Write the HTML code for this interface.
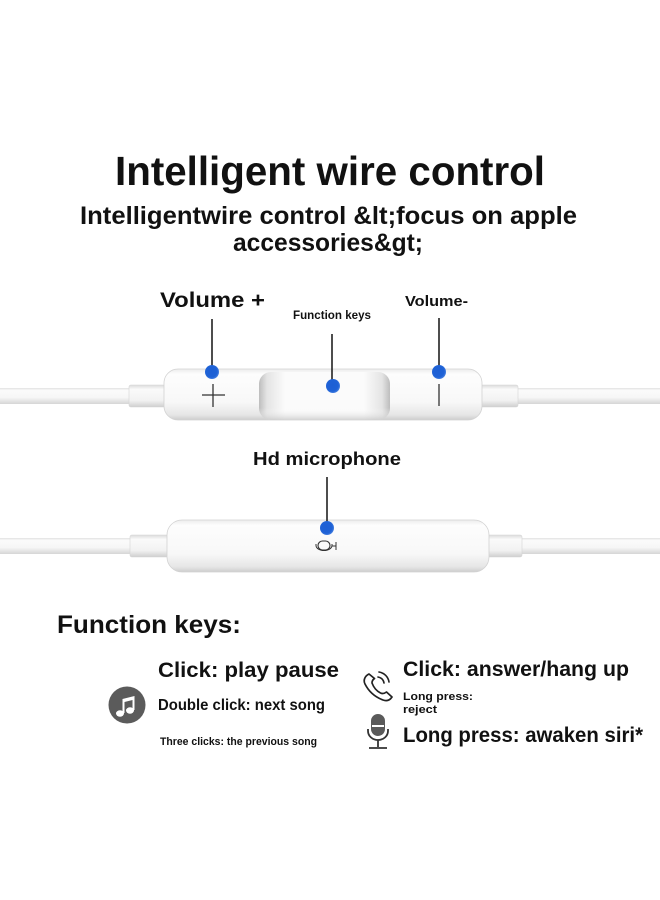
<!DOCTYPE html>
<html>
<head>
<meta charset="utf-8">
<style>
  html, body { margin: 0; padding: 0; background: #ffffff; }
  body { width: 660px; height: 900px; overflow: hidden; }
  svg { display: block; }
  text { font-family: "Liberation Sans", "Noto Sans CJK SC", sans-serif; font-weight: bold; fill: #111; }
</style>
</head>
<body>
<svg width="660" height="900" viewBox="0 0 660 900" xmlns="http://www.w3.org/2000/svg">
  <defs>
    <linearGradient id="cable" x1="0" y1="0" x2="0" y2="1">
      <stop offset="0" stop-color="#e2e2e2"/>
      <stop offset="0.15" stop-color="#fbfbfb"/>
      <stop offset="0.6" stop-color="#f6f6f6"/>
      <stop offset="1" stop-color="#d6d6d6"/>
    </linearGradient>
    <linearGradient id="collar" x1="0" y1="0" x2="0" y2="1">
      <stop offset="0" stop-color="#dcdcdc"/>
      <stop offset="0.2" stop-color="#fafafa"/>
      <stop offset="0.7" stop-color="#f2f2f2"/>
      <stop offset="1" stop-color="#cfcfcf"/>
    </linearGradient>
    <linearGradient id="body" x1="0" y1="0" x2="0" y2="1">
      <stop offset="0" stop-color="#ececec"/>
      <stop offset="0.1" stop-color="#fdfdfd"/>
      <stop offset="0.65" stop-color="#f8f8f8"/>
      <stop offset="0.9" stop-color="#e6e6e6"/>
      <stop offset="1" stop-color="#cdcdcd"/>
    </linearGradient>
    <linearGradient id="btnH" x1="0" y1="0" x2="1" y2="0">
      <stop offset="0" stop-color="#bdbdbd"/>
      <stop offset="0.06" stop-color="#e4e4e4"/>
      <stop offset="0.2" stop-color="#fbfbfb"/>
      <stop offset="0.8" stop-color="#fbfbfb"/>
      <stop offset="0.94" stop-color="#e4e4e4"/>
      <stop offset="1" stop-color="#bdbdbd"/>
    </linearGradient>
    <linearGradient id="btnV" x1="0" y1="0" x2="0" y2="1">
      <stop offset="0" stop-color="#ffffff" stop-opacity="0"/>
      <stop offset="0.75" stop-color="#ffffff" stop-opacity="0"/>
      <stop offset="1" stop-color="#c8c8c8" stop-opacity="0.8"/>
    </linearGradient>
    <radialGradient id="dot" cx="0.45" cy="0.45" r="0.6">
      <stop offset="0" stop-color="#1d5fd4"/>
      <stop offset="0.7" stop-color="#1f62d6"/>
      <stop offset="1" stop-color="#4f86e2"/>
    </radialGradient>
  </defs>

  <!-- Title -->
  <text x="115" y="185" font-size="41" textLength="430" lengthAdjust="spacingAndGlyphs">Intelligent wire control</text>
  <text x="80" y="224" font-size="25" textLength="497" lengthAdjust="spacingAndGlyphs">Intelligentwire control &amp;lt;focus on apple</text>
  <text x="233" y="251" font-size="25" textLength="190" lengthAdjust="spacingAndGlyphs">accessories&amp;gt;</text>

  <!-- Top labels -->
  <text x="160" y="307" font-size="21" textLength="105" lengthAdjust="spacingAndGlyphs">Volume +</text>
  <text x="293" y="319" font-size="11.5" textLength="78" lengthAdjust="spacingAndGlyphs">Function keys</text>
  <text x="405" y="306" font-size="15" textLength="63" lengthAdjust="spacingAndGlyphs">Volume-</text>

  <!-- Top remote -->
  <rect x="0" y="388" width="132" height="16" fill="url(#cable)"/>
  <rect x="129" y="385" width="38" height="22" rx="2" fill="url(#collar)" stroke="#d4d4d4" stroke-width="0.6"/>
  <rect x="515" y="388" width="145" height="16" fill="url(#cable)"/>
  <rect x="479" y="385" width="39" height="22" rx="2" fill="url(#collar)" stroke="#d4d4d4" stroke-width="0.6"/>
  <rect x="164" y="369" width="318" height="51" rx="14" fill="url(#body)" stroke="#d2d2d2" stroke-width="0.8"/>
  <rect x="259" y="372" width="131" height="48" rx="12" fill="url(#btnH)"/>
  <rect x="259" y="372" width="131" height="48" rx="12" fill="url(#btnV)"/>
  <!-- plus / minus -->
  <line x1="202" y1="395" x2="225" y2="395" stroke="#333" stroke-width="1.3"/>
  <line x1="213" y1="384" x2="213" y2="407" stroke="#333" stroke-width="1.3"/>
  <line x1="439" y1="384" x2="439" y2="406" stroke="#333" stroke-width="1.3"/>
  <!-- leader lines -->
  <line x1="212" y1="319" x2="212" y2="370" stroke="#222" stroke-width="1.6"/>
  <line x1="332" y1="334" x2="332" y2="385" stroke="#222" stroke-width="1.6"/>
  <line x1="439" y1="318" x2="439" y2="370" stroke="#222" stroke-width="1.6"/>
  <circle cx="212" cy="372" r="7" fill="url(#dot)"/>
  <circle cx="333" cy="386" r="7" fill="url(#dot)"/>
  <circle cx="439" cy="372" r="7" fill="url(#dot)"/>

  <!-- Hd microphone -->
  <text x="253" y="465" font-size="18" textLength="148" lengthAdjust="spacingAndGlyphs">Hd microphone</text>
  <rect x="0" y="538" width="134" height="16" fill="url(#cable)"/>
  <rect x="130" y="535" width="40" height="22" rx="2" fill="url(#collar)" stroke="#d4d4d4" stroke-width="0.6"/>
  <rect x="518" y="538" width="142" height="16" fill="url(#cable)"/>
  <rect x="486" y="535" width="36" height="22" rx="2" fill="url(#collar)" stroke="#d4d4d4" stroke-width="0.6"/>
  <rect x="167" y="520" width="322" height="52" rx="15" fill="url(#body)" stroke="#d2d2d2" stroke-width="0.8"/>
  <line x1="327" y1="477" x2="327" y2="526" stroke="#222" stroke-width="1.6"/>
  <circle cx="327" cy="528" r="7" fill="url(#dot)"/>
  <!-- mic glyph -->
  <rect x="318" y="541" width="12" height="9" rx="4.5" fill="none" stroke="#333" stroke-width="1.1"/>
  <path d="M316 544 v1.5 a8 5 0 0 0 16 0 v-1.5" fill="none" stroke="#333" stroke-width="1"/>
  <line x1="332" y1="546" x2="336" y2="546" stroke="#333" stroke-width="1"/>
  <line x1="336" y1="542" x2="336" y2="550" stroke="#333" stroke-width="1"/>

  <!-- Function keys section -->
  <text x="57" y="633" font-size="25" textLength="184" lengthAdjust="spacingAndGlyphs">Function keys:</text>
  <text x="158" y="677" font-size="21" textLength="181" lengthAdjust="spacingAndGlyphs">Click: play pause</text>
  <text x="158" y="710" font-size="16" textLength="167" lengthAdjust="spacingAndGlyphs">Double click: next song</text>
  <text x="160" y="745" font-size="11" textLength="157" lengthAdjust="spacingAndGlyphs">Three clicks: the previous song</text>

  <text x="403" y="676" font-size="21" textLength="226" lengthAdjust="spacingAndGlyphs">Click: answer/hang up</text>
  <text x="403" y="700" font-size="11" textLength="70" lengthAdjust="spacingAndGlyphs">Long press:</text>
  <text x="403" y="713" font-size="11" textLength="34" lengthAdjust="spacingAndGlyphs">reject</text>
  <text x="403" y="742" font-size="21" textLength="240" lengthAdjust="spacingAndGlyphs">Long press: awaken siri*</text>

  <!-- Music icon -->
  <circle cx="127" cy="705" r="18.5" fill="#5b5b5b"/>
  <path d="M122.5 699 L134.5 696 L134.5 699.5 L122.5 702.5 Z" fill="#fff"/>
  <line x1="123.5" y1="699.5" x2="123.5" y2="713" stroke="#fff" stroke-width="2"/>
  <line x1="133.5" y1="697" x2="133.5" y2="710" stroke="#fff" stroke-width="2"/>
  <ellipse cx="120" cy="713.5" rx="4" ry="3.2" fill="#fff"/>
  <ellipse cx="130" cy="710.5" rx="4" ry="3.2" fill="#fff"/>

  <!-- Phone icon -->
  <path d="M369 674 c-4 2 -6 6 -4 10 c4 8 10 13 18 16 c4 1.5 7 0 9 -3 l-5.5 -5 c-2 1.5 -4 2 -6 1 c-4 -2 -7 -6 -8.5 -10 c0 -2 1 -3.5 2.5 -4.5 z" fill="none" stroke="#222" stroke-width="1.7" stroke-linejoin="round"/>
  <path d="M378 677 a7 7 0 0 1 6 6" fill="none" stroke="#222" stroke-width="1.6" stroke-linecap="round"/>
  <path d="M379 672 a12 12 0 0 1 10 10" fill="none" stroke="#222" stroke-width="1.6" stroke-linecap="round"/>

  <!-- Mic icon -->
  <rect x="371" y="714" width="14" height="22" rx="7" fill="#5a5a5a"/>
  <line x1="372" y1="726" x2="384" y2="726" stroke="#fff" stroke-width="2"/>
  <path d="M368 729 v2 a10 9 0 0 0 20 0 v-2" fill="none" stroke="#333" stroke-width="1.8"/>
  <line x1="378" y1="740" x2="378" y2="747" stroke="#333" stroke-width="1.8"/>
  <line x1="369" y1="748" x2="387" y2="748" stroke="#333" stroke-width="1.8"/>
</svg>
</body>
</html>
